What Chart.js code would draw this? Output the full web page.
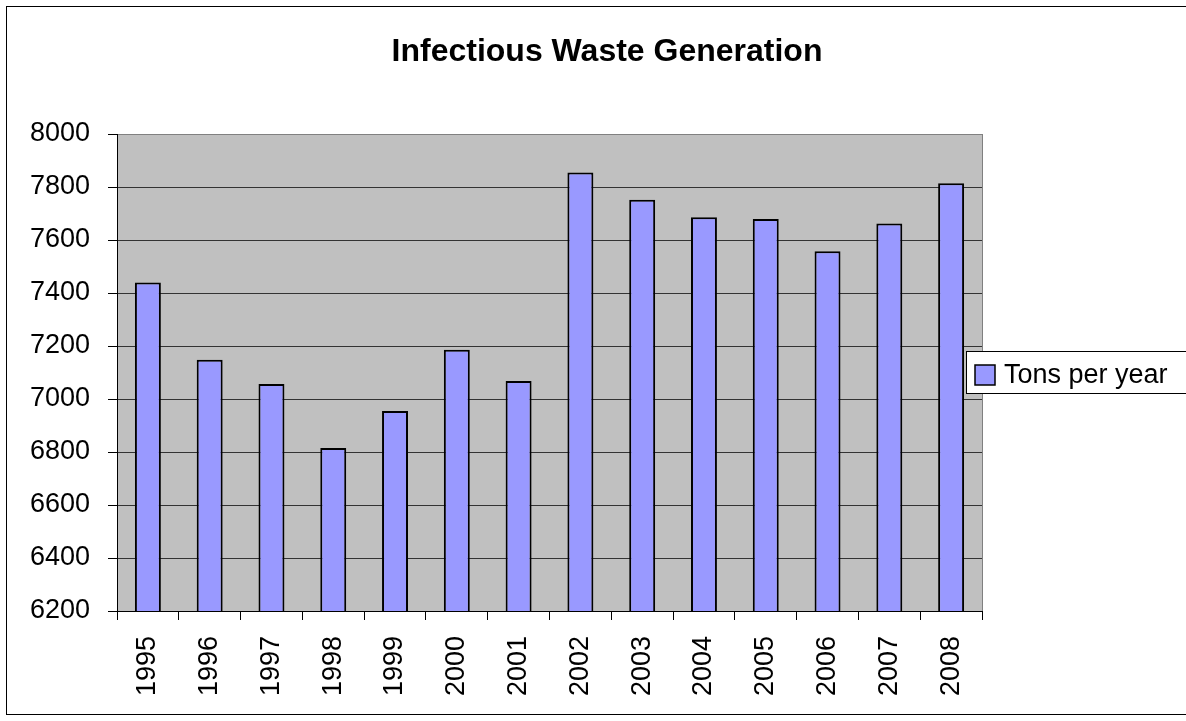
<!DOCTYPE html>
<html lang="en">
<head>
  <meta charset="UTF-8" />
  <title>Infectious Waste Generation</title>
  <script src="https://cdn.jsdelivr.net/npm/chart.js"></script>
  <style>
    html, body { margin: 0; padding: 0; background: #fff; }
    #wrap { width: 1186px; height: 721px; }
  </style>
</head>
<body>
  <div id="wrap"><canvas id="wasteChart"></canvas></div>

  <script>
    // data
    const years = ['1995', '1996', '1997', '1998', '1999', '2000', '2001',
                   '2002', '2003', '2004', '2005', '2006', '2007', '2008'];
    const tonsPerYear = [7440, 7148, 7057, 6815, 6955, 7186, 7068,
                         7855, 7752, 7686, 7679, 7558, 7662, 7814];
    const yMin = 6200;
    const yMax = 8000;
    const yStep = 200;
    const chartTitle = 'Infectious Waste Generation';

    const FONT = "'Liberation Sans', Arial, sans-serif";

    // grey plot background, outer frame, title and legend box like the old excel chart
    const excelLook = {
      id: 'excelLook',
      beforeDraw(chart) {
        const { ctx, chartArea: a } = chart;
        ctx.save();
        ctx.fillStyle = '#ffffff';
        ctx.fillRect(0, 0, chart.width, chart.height);
        ctx.fillStyle = '#c0c0c0';
        ctx.fillRect(a.left, a.top, a.right - a.left, a.bottom - a.top);
        ctx.restore();
      },
      beforeDatasetsDraw(chart) {
        const { ctx, chartArea: a } = chart;
        ctx.save();
        ctx.strokeStyle = '#808080';
        ctx.lineWidth = 1;
        ctx.beginPath();
        ctx.moveTo(a.right + 0.5, a.top);
        ctx.lineTo(a.right + 0.5, a.bottom);
        ctx.stroke();
        ctx.restore();
      },
      afterDraw(chart) {
        const { ctx } = chart;
        ctx.save();
        // outer chart border
        ctx.strokeStyle = '#000';
        ctx.lineWidth = 1;
        ctx.strokeRect(6.5, 6.5, chart.width + 20, 708);

        // title
        ctx.fillStyle = '#000';
        ctx.font = 'bold 32px ' + FONT;
        ctx.textAlign = 'center';
        ctx.textBaseline = 'middle';
        ctx.fillText(chartTitle, 607, 52);

        // legend
        const ds = chart.data.datasets[0];
        ctx.fillStyle = '#fff';
        ctx.fillRect(966, 351, 240, 42);
        ctx.strokeStyle = '#000';
        ctx.strokeRect(966.5, 351.5, 240, 42);
        ctx.fillStyle = ds.backgroundColor;
        ctx.fillRect(975, 365, 20, 20);
        ctx.lineWidth = 1.5;
        ctx.strokeRect(975, 365, 20, 20);
        ctx.fillStyle = '#000';
        ctx.font = '27px ' + FONT;
        ctx.textAlign = 'left';
        ctx.textBaseline = 'alphabetic';
        ctx.fillText(ds.label, 1004, 383);
        ctx.restore();
      }
    };

    new Chart(document.getElementById('wasteChart'), {
      type: 'bar',
      data: {
        labels: years,
        datasets: [{
          label: 'Tons per year',
          data: tonsPerYear,
          backgroundColor: '#9999ff',
          borderColor: '#000',
          borderWidth: 2,
          barPercentage: 0.42,
          categoryPercentage: 1
        }]
      },
      options: {
        responsive: true,
        maintainAspectRatio: false,
        animation: false,
        layout: { padding: { left: 0, right: 204, top: 134, bottom: 0 } },
        plugins: {
          legend: { display: false },
          tooltip: { enabled: false },
          title: { display: false }
        },
        scales: {
          x: {
            afterFit(scale) { scale.height = 110; },
            border: { color: '#000', width: 1 },
            grid: {
              display: true,
              offset: true,
              drawOnChartArea: false,
              color: '#000',
              tickLength: 9
            },
            ticks: {
              color: '#000',
              font: { family: FONT, size: 27 },
              minRotation: 90,
              maxRotation: 90,
              padding: 16,
              autoSkip: false
            }
          },
          y: {
            min: yMin,
            max: yMax,
            afterFit(scale) { scale.width = 117; },
            border: { color: '#000', width: 1 },
            grid: {
              color: (c) => (c.tick && c.tick.value === yMax ? '#808080' : '#333'),
              tickColor: '#000',
              tickLength: 9
            },
            ticks: {
              stepSize: yStep,
              color: '#000',
              font: { family: FONT, size: 27 },
              padding: 18,
              callback: (v) => String(v)
            }
          }
        }
      },
      plugins: [excelLook]
    });
  </script>
</body>
</html>
